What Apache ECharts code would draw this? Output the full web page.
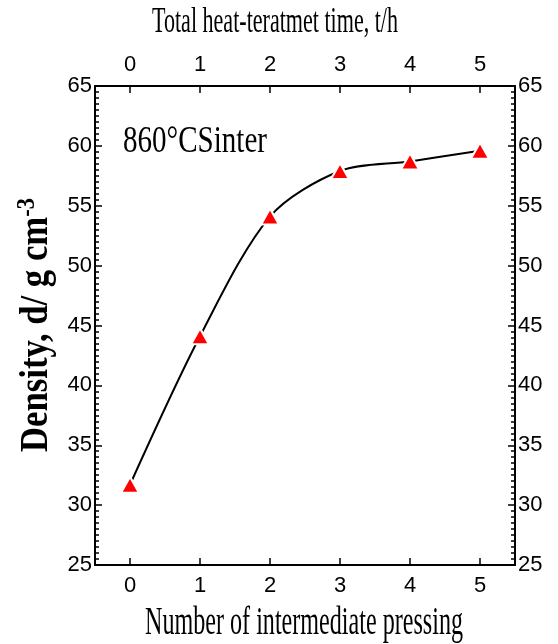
<!DOCTYPE html>
<html>
<head>
<meta charset="utf-8">
<script src="https://cdn.jsdelivr.net/npm/echarts@6/dist/echarts.min.js"></script>
<style>
  html, body { margin: 0; padding: 0; background: #fff; }
  #chart { width: 558px; height: 644px; }
</style>
</head>
<body>
<div id="chart"></div>
<script>
// data
const pressings = ['0', '1', '2', '3', '4', '5'];
const hours = ['0', '1', '2', '3', '4', '5'];
const density = [3.17, 4.41, 5.41, 5.79, 5.87, 5.96];
const yTicks = [2.5, 3.0, 3.5, 4.0, 4.5, 5.0, 5.5, 6.0, 6.5];

const serif = '"Liberation Serif", "Times New Roman", serif';
const sans = '"Liberation Sans", Arial, sans-serif';

// squeeze wide serif titles to the width they take in the picture
const ctx = document.createElement('canvas').getContext('2d');
function textWidth(text, font) {
  ctx.font = font;
  return ctx.measureText(text).width;
}
function squeeze(text, font, width) {
  return width / textWidth(text, font);
}

const topTitle = 'Total heat-teratmet time, t/h';
const bottomTitle = 'Number of intermediate pressing';
const note = '860°CSinter';
const yTitle = 'Density, d/ g cm';
const yTitleSup = '-3';
const yScale = 254 / (textWidth(yTitle, 'bold 40px ' + serif) + textWidth(yTitleSup, 'bold 26px ' + serif));

const fmt = (v) => v.toFixed(1).replace('.', '');

const chart = echarts.init(document.getElementById('chart'));

const axisBase = {
  axisLine: { show: true, lineStyle: { color: '#000', width: 2 } },
  axisLabel: { color: '#000', fontFamily: sans, fontSize: 22 },
  splitLine: { show: false },
};

const option = {
  animation: false,
  backgroundColor: '#fff',
  grid: { left: 95, right: 43, top: 86, bottom: 79 },
  xAxis: [
    Object.assign({}, axisBase, {
      type: 'category',
      position: 'bottom',
      data: pressings,
      boundaryGap: true,
      axisTick: { show: true, inside: true, alignWithLabel: true, length: 7, lineStyle: { color: '#000', width: 1.5 } },
      axisLabel: Object.assign({}, axisBase.axisLabel, { margin: 10, interval: 0 }),
    }),
    Object.assign({}, axisBase, {
      type: 'category',
      position: 'top',
      data: hours,
      boundaryGap: true,
      axisTick: { show: true, inside: true, alignWithLabel: true, length: 7, lineStyle: { color: '#000', width: 1.5 } },
      axisLabel: Object.assign({}, axisBase.axisLabel, { margin: 10, interval: 0 }),
    }),
  ],
  yAxis: [0, 1].map((i) => Object.assign({}, axisBase, {
    type: 'value',
    position: i ? 'right' : 'left',
    min: yTicks[0],
    max: yTicks[yTicks.length - 1],
    interval: 0.5,
    axisTick: { show: true, inside: true, length: 7, lineStyle: { color: '#000', width: 1.5 } },
    minorTick: { show: true, splitNumber: 10, length: 4, lineStyle: { color: '#000', width: 1.5 } },
    minorSplitLine: { show: false },
    axisLabel: Object.assign({}, axisBase.axisLabel, { margin: 3, formatter: fmt }),
  })),
  series: [
    {
      type: 'line',
      data: density,
      smooth: 0.3,
      symbol: 'triangle',
      symbolSize: [18, 16],
      lineStyle: { color: '#000', width: 2 },
      itemStyle: { color: '#ff0000', borderColor: '#fff', borderWidth: 2 },
      z: 3,
    },
  ],
  graphic: [
    {
      type: 'text',
      x: 275, y: 23,
      scaleX: squeeze(topTitle, '36px ' + serif, 246),
      style: { text: topTitle, font: '36px ' + serif, fill: '#000', align: 'center', verticalAlign: 'middle' },
    },
    {
      type: 'text',
      x: 304, y: 624,
      scaleX: squeeze(bottomTitle, '39px ' + serif, 318),
      style: { text: bottomTitle, font: '39px ' + serif, fill: '#000', align: 'center', verticalAlign: 'middle' },
    },
    {
      type: 'text',
      x: 123, y: 142,
      scaleX: squeeze(note, '37px ' + serif, 144),
      style: { text: note, font: '37px ' + serif, fill: '#000', align: 'left', verticalAlign: 'middle' },
    },
    {
      type: 'text',
      x: 37, y: 325,
      rotation: Math.PI / 2,
      scaleX: yScale,
      style: {
        text: '{a|' + yTitle + '}{b|' + yTitleSup + '}',
        align: 'center',
        verticalAlign: 'middle',
        rich: {
          a: { fontFamily: serif, fontWeight: 'bold', fontSize: 40, color: '#000' },
          b: { fontFamily: serif, fontWeight: 'bold', fontSize: 26, color: '#000', verticalAlign: 'top', padding: [0, 0, 20, 0] },
        },
      },
    },
  ],
};

chart.setOption(option);
</script>
</body>
</html>
